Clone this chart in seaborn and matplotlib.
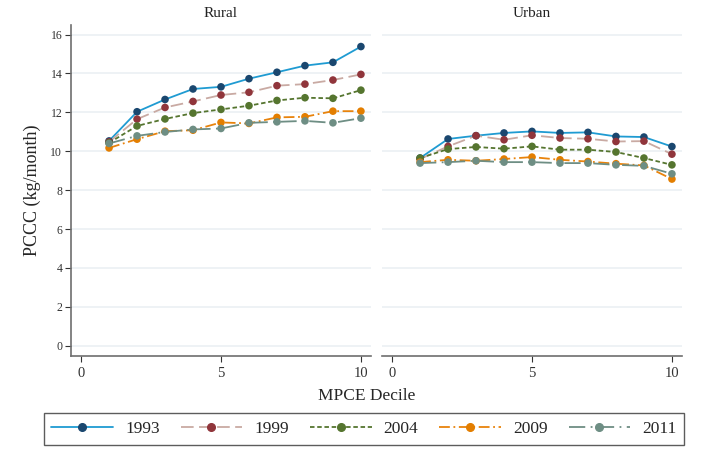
import numpy as np
import pandas as pd
import matplotlib
matplotlib.use("Agg")
import matplotlib.pyplot as plt
from matplotlib.lines import Line2D
import seaborn as sns

# data
deciles = list(range(1, 11))
years = ["1993", "1999", "2004", "2009", "2011"]

rural_1993 = [10.53, 12.03, 12.66, 13.20, 13.31, 13.73, 14.06, 14.40, 14.57, 15.38]
rural_1999 = [10.48, 11.65, 12.25, 12.56, 12.89, 13.03, 13.37, 13.45, 13.66, 13.95]
rural_2004 = [10.43, 11.30, 11.66, 11.96, 12.15, 12.34, 12.61, 12.75, 12.72, 13.14]
rural_2009 = [10.17, 10.62, 11.03, 11.08, 11.48, 11.43, 11.74, 11.77, 12.06, 12.06]
rural_2011 = [10.40, 10.79, 10.99, 11.12, 11.17, 11.46, 11.51, 11.56, 11.46, 11.70]

urban_1993 = [9.65, 10.63, 10.80, 10.94, 11.02, 10.94, 10.97, 10.76, 10.73, 10.24]
urban_1999 = [9.60, 10.25, 10.80, 10.59, 10.82, 10.68, 10.64, 10.50, 10.52, 9.85]
urban_2004 = [9.65, 10.11, 10.22, 10.13, 10.25, 10.08, 10.08, 9.96, 9.65, 9.30]
urban_2009 = [9.44, 9.56, 9.51, 9.60, 9.70, 9.56, 9.47, 9.36, 9.27, 8.57]
urban_2011 = [9.39, 9.44, 9.51, 9.44, 9.44, 9.39, 9.39, 9.30, 9.25, 8.84]

rural = [rural_1993, rural_1999, rural_2004, rural_2009, rural_2011]
urban = [urban_1993, urban_1999, urban_2004, urban_2009, urban_2011]

rows = []
for area, series in [("Rural", rural), ("Urban", urban)]:
    for yr, vals in zip(years, series):
        for d, v in zip(deciles, vals):
            rows.append({"area": area, "year": yr, "decile": d, "pccc": v})
df = pd.DataFrame(rows)

# Stata s2color-like styling
line_col = {"1993": "#1f9bd2", "1999": "#c9aaa3", "2004": "#55752f",
            "2009": "#e8830c", "2011": "#6e8e84"}
mark_col = {"1993": "#1a476f", "1999": "#90353b", "2004": "#55752f",
            "2009": "#e37e00", "2011": "#6e8e84"}
dashes = {"1993": "", "1999": (7, 3), "2004": (2.5, 1.5),
          "2009": (6, 2, 1, 2), "2011": (9, 3, 1, 3)}

sns.set_style("white")
plt.rcParams["font.family"] = ["Liberation Serif", "DejaVu Serif"]

fig = plt.figure(figsize=(7.23, 4.54), dpi=100)
ax1 = fig.add_axes([71 / 723, 0.2165, 300 / 723, 0.7285])
ax2 = fig.add_axes([382 / 723, 0.2165, 300 / 723, 0.7285])

for ax, area in [(ax1, "Rural"), (ax2, "Urban")]:
    sub = df[df["area"] == area]
    sns.lineplot(data=sub, x="decile", y="pccc", hue="year", style="year",
                 palette=line_col, dashes=dashes, linewidth=1.3,
                 legend=False, ax=ax, zorder=2)
    sns.scatterplot(data=sub, x="decile", y="pccc", hue="year",
                    palette=mark_col, s=30, edgecolor="none",
                    legend=False, ax=ax, zorder=3)
    ax.set_xlim(-0.36, 10.36)
    ax.set_ylim(-0.51, 16.49)
    ax.set_xticks([0, 5, 10])
    ax.set_yticks(range(0, 17, 2))
    ax.grid(axis="y", color="#edf1f5", linewidth=1.3)
    ax.set_axisbelow(True)
    ax.set_xlabel("")
    ax.set_ylabel("")
    ax.set_title(area, fontsize=11, pad=6, color="#222222")
    for s in ["top", "right"]:
        ax.spines[s].set_visible(False)
    ax.spines["bottom"].set_color("#6e6e6e")
    ax.spines["left"].set_color("#6e6e6e")
    ax.spines["bottom"].set_linewidth(1.2)
    ax.spines["left"].set_linewidth(1.2)
    ax.tick_params(axis="both", which="both", length=4.3, width=0.8,
                   color="#333333", labelcolor="#333333",
                   bottom=True, left=True)
    ax.tick_params(axis="x", labelsize=10.5, pad=4)
    ax.tick_params(axis="y", labelsize=8.5, pad=2)

ax1.set_ylabel("PCCC (kg/month)", fontsize=13, labelpad=7)
ax2.spines["left"].set_visible(False)
ax2.tick_params(axis="y", left=False, labelleft=False)

fig.text(0.507, 1 - 395.5 / 454, "MPCE Decile", ha="center", va="center",
         fontsize=12.5)

handles = [Line2D([], [], color=line_col[y], marker="o", markersize=5.5,
                  markerfacecolor=mark_col[y], markeredgecolor=mark_col[y],
                  linewidth=1.3,
                  linestyle="-" if y == "1993" else (0, dashes[y]))
           for y in years]
leg = fig.legend(handles, years, loc="center",
                 bbox_to_anchor=(364 / 723, 1 - 429 / 454),
                 ncol=5, fontsize=12.5, frameon=True, fancybox=False,
                 handlelength=3.55, columnspacing=1.2, handletextpad=0.7,
                 borderpad=0.45, borderaxespad=0)
leg.get_frame().set_edgecolor("#333333")
leg.get_frame().set_linewidth(1.0)

fig.savefig("out.png", dpi=100)
